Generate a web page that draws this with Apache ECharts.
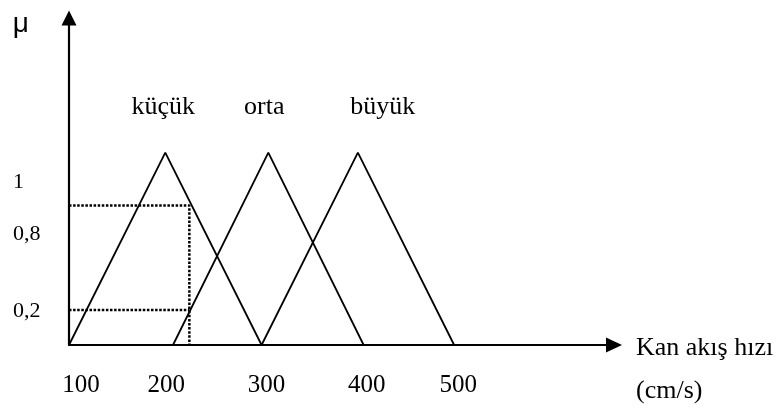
<!DOCTYPE html>
<html>
<head>
<meta charset="utf-8">
<script src="https://cdn.jsdelivr.net/npm/echarts@6/dist/echarts.min.js"></script>
<style>
  html, body { margin: 0; padding: 0; background: #fff; }
  #chart { width: 779px; height: 409px; }
</style>
</head>
<body>
<div id="chart"></div>
<script>
// Fuzzy sets for blood flow velocity: [start, peak, end] in cm/s
const setNames = ['küçük', 'orta', 'büyük'];
const kucuk = [100, 200, 300];
const orta = [208, 307, 406];
const buyuk = [300, 400, 500];

// x tick labels
const xTicks = [100, 200, 300, 400, 500];

// y labels and the levels they are printed at
const yTickText = ['0,2', '0,8', '1'];
const yTickLevels = [0.178, 0.578, 0.848];

const cutX = 225;
const cutLevels = [0.725, 0.182];

const serif = 'Liberation Serif';
const black = '#000';

// horizontal nudges (px) for the peak labels and the x tick labels
const peakLabelOffset = [[-2, 0], [-4, 0], [25, 0]];
const xLabelShift = [12, 1, 5, 9, 4];

function triangle(name, pts, i) {
  return {
    name: name,
    type: 'line',
    symbol: 'circle',
    symbolSize: 0.1,
    itemStyle: { color: black },
    lineStyle: { color: black, width: 1.8 },
    data: [
      [pts[0], 0],
      {
        value: [pts[1], 1],
        label: {
          show: true,
          position: 'top',
          distance: 30,
          offset: peakLabelOffset[i],
          formatter: '{a}',
          color: black,
          fontFamily: serif,
          fontSize: 26,
          lineHeight: 30
        }
      },
      [pts[2], 0]
    ],
    z: 3
  };
}

// rich styles that shift each x tick label sideways
const xLabelRich = {};
xTicks.forEach(function (t, i) {
  const s = xLabelShift[i];
  xLabelRich['t' + i] = {
    color: black,
    fontFamily: serif,
    fontSize: 25,
    lineHeight: 26,
    padding: s >= 0 ? [0, 0, 0, 2 * s] : [0, -2 * s, 0, 0]
  };
});

const dotted = { color: black, width: 2.5, type: [2.5, 1.6] };

const option = {
  animation: false,
  backgroundColor: '#fff',
  grid: { left: 69, right: 165, top: 18, bottom: 64 },
  xAxis: {
    type: 'value',
    min: 100,
    max: 666,
    name: '{s| }\n{t|Kan akış hızı}\n{t|(cm/s)}',
    nameLocation: 'end',
    nameGap: 22,
    nameTextStyle: {
      color: black,
      fontFamily: serif,
      fontSize: 26,
      align: 'left',
      verticalAlign: 'middle',
      rich: {
        s: { fontFamily: serif, fontSize: 26, lineHeight: 50 },
        t: { color: black, fontFamily: serif, fontSize: 26, lineHeight: 43 }
      }
    },
    axisLine: {
      onZero: false,
      lineStyle: { color: black, width: 2 },
      symbol: ['none', 'triangle'],
      symbolSize: [15, 16]
    },
    axisTick: { show: false },
    splitLine: { show: false },
    axisLabel: {
      customValues: xTicks,
      formatter: function (v) {
        const i = xTicks.indexOf(v);
        return i < 0 ? String(v) : '{t' + i + '|' + v + '}';
      },
      rich: xLabelRich,
      color: black,
      fontFamily: serif,
      fontSize: 25,
      lineHeight: 26,
      margin: 27
    }
  },
  yAxis: {
    type: 'value',
    min: 0,
    max: 1.7,
    name: 'μ',
    nameLocation: 'end',
    nameGap: -6,
    nameTextStyle: {
      color: black,
      fontFamily: 'Liberation Sans',
      fontSize: 28,
      align: 'right',
      verticalAlign: 'middle',
      padding: [0, 40, 0, 0]
    },
    axisLine: {
      onZero: false,
      lineStyle: { color: black, width: 2.2 },
      symbol: ['none', 'triangle'],
      symbolSize: [15, 15]
    },
    axisTick: { show: false },
    splitLine: { show: false },
    axisLabel: {
      customValues: yTickLevels,
      formatter: function (v) {
        let best = 0;
        for (let i = 0; i < yTickLevels.length; i++) {
          if (Math.abs(yTickLevels[i] - v) < Math.abs(yTickLevels[best] - v)) best = i;
        }
        return yTickText[best];
      },
      align: 'left',
      margin: 56,
      color: black,
      fontFamily: serif,
      fontSize: 22
    }
  },
  series: [
    triangle(setNames[0], kucuk, 0),
    triangle(setNames[1], orta, 1),
    triangle(setNames[2], buyuk, 2),
    {
      name: 'cut-high',
      type: 'line',
      symbol: 'none',
      lineStyle: dotted,
      data: [[xTicks[0], cutLevels[0]], [cutX, cutLevels[0]], [cutX, 0]],
      z: 2
    },
    {
      name: 'cut-low',
      type: 'line',
      symbol: 'none',
      lineStyle: dotted,
      data: [[xTicks[0], cutLevels[1]], [cutX, cutLevels[1]]],
      z: 2
    }
  ]
};

const chart = echarts.init(document.getElementById('chart'), null, { renderer: 'canvas' });
chart.setOption(option);
</script>
</body>
</html>
